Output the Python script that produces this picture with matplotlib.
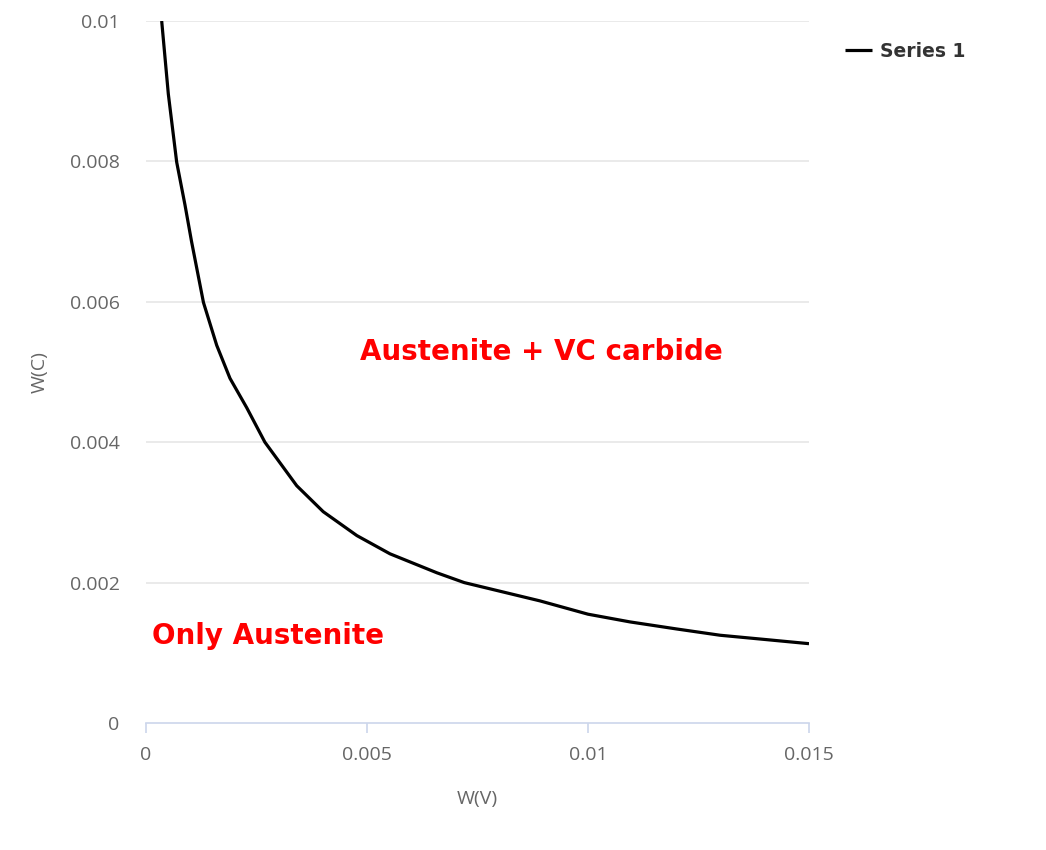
import matplotlib
matplotlib.use('Agg')
import matplotlib.pyplot as plt

plt.rcParams['font.family'] = ['Open Sans', 'DejaVu Sans']

# 曲线数据
w_v = [0.000355, 0.000505, 0.000694, 0.000882, 0.00103, 0.0013, 0.0016, 0.0019,
       0.00228, 0.00269, 0.00341, 0.00401, 0.00477, 0.00552, 0.00658, 0.0072,
       0.00891, 0.0100, 0.01095, 0.0120, 0.01299, 0.0140, 0.015]
w_c = [0.0100, 0.00896, 0.00799, 0.00738, 0.00686, 0.00599, 0.00538, 0.00491,
       0.00449, 0.0040, 0.00338, 0.00301, 0.00267, 0.00241, 0.00214, 0.0020,
       0.00174, 0.00155, 0.00144, 0.00134, 0.00125, 0.00119, 0.00113]

x_ticks = [0, 0.005, 0.01, 0.015]
x_labels = ['0', '0.005', '0.01', '0.015']
y_ticks = [0, 0.002, 0.004, 0.006, 0.008, 0.01]
y_labels = ['0', '0.002', '0.004', '0.006', '0.008', '0.01']

fig = plt.figure(figsize=(10.46, 8.5), dpi=100)
ax = fig.add_axes([146 / 1046, 1 - 723 / 850, (809 - 146) / 1046, (723 - 21) / 850])

line, = ax.plot(w_v, w_c, color='black', lw=2.3, label='Series 1',
                solid_capstyle='butt', solid_joinstyle='round')

ax.set_xlim(0, 0.015)
ax.set_ylim(0, 0.01)
ax.set_xticks(x_ticks)
ax.set_xticklabels(x_labels)
ax.set_yticks(y_ticks)
ax.set_yticklabels(y_labels)

# 网格和坐标轴样式
for y in y_ticks[1:]:
    ax.axhline(y, color='#e6e6e6', lw=1.2, zorder=0)
for s in ['top', 'right', 'left']:
    ax.spines[s].set_visible(False)
ax.spines['bottom'].set_color('#ccd6eb')
ax.spines['bottom'].set_linewidth(1.2)
ax.tick_params(axis='x', colors='#ccd6eb', length=7.5, width=1.2, pad=9,
               labelcolor='#666666', labelsize=14)
ax.tick_params(axis='y', length=0, pad=19, labelcolor='#666666', labelsize=14)

ax.set_xlabel('W(V)', color='#666666', fontsize=14, labelpad=19)
ax.set_ylabel('W(C)', color='#666666', fontsize=14, labelpad=15)

# 区域标注
ax.text(0.00484, 0.00528, 'Austenite + VC carbide', color='red', fontsize=20,
        fontweight='bold', family='DejaVu Sans', ha='left', va='center')
ax.text(0.00014, 0.00124, 'Only Austenite', color='red', fontsize=20,
        fontweight='bold', family='DejaVu Sans', ha='left', va='center')

fig.legend(handles=[line], loc='upper left', bbox_to_anchor=(828 / 1046, 1 - 25 / 850),
           frameon=False, handlelength=1.45, handletextpad=0.45,
           prop={'weight': 'bold', 'size': 13.5, 'family': 'DejaVu Sans'},
           labelcolor='#333333')

fig.savefig('out.png', dpi=100)
